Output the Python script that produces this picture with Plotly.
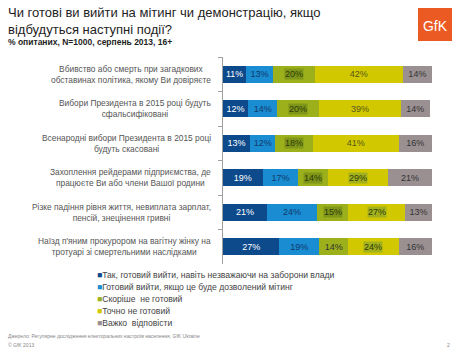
import plotly.graph_objects as go

# ---- data ----
categories = [
    "Вбивство або смерть при загадкових<br>обставинах політика, якому Ви довіряєте",
    "Вибори Президента в 2015 році будуть<br>сфальсифіковані",
    "Всенародні вибори Президента в 2015 році<br>будуть скасовані",
    "Захоплення рейдерами підприємства, де<br>працюєте Ви або члени Вашої родини",
    "Різке падіння рівня життя, невиплата зарплат,<br>пенсій, знецінення гривні",
    "Наїзд п'яним прокурором на вагітну жінку на<br>тротуарі зі смертельними наслідками",
]
series_names = [
    "Так, готовий вийти, навіть незважаючи на заборони влади",
    "Готовий вийти, якщо це буде дозволений мітинг",
    "Скоріше  не готовий",
    "Точно не готовий",
    "Важко  відповісти",
]
ready_despite_ban = [11, 12, 13, 19, 21, 27]
ready_if_allowed = [13, 14, 12, 17, 24, 19]
rather_not = [20, 20, 18, 14, 15, 14]
definitely_not = [42, 39, 41, 29, 27, 24]
hard_to_say = [14, 14, 16, 21, 13, 16]
series_values = [ready_despite_ban, ready_if_allowed, rather_not, definitely_not, hard_to_say]

# labels drawn with a highlight box in the original: (series index, row index)
boxed = {(2, 0), (2, 1), (2, 2), (2, 3), (3, 3), (2, 4), (3, 4), (3, 5)}

colors = ["#0d4a8c", "#1a8dd2", "#9cb01c", "#d2c800", "#9a9092"]
text_colors = ["#ffffff", "#12386a", "#333333", "#55581a", "#333333"]
box_colors = {2: "#7f9618", 3: "#a3b21c"}

W, H = 460, 353
L, R, T, B = 223, 432, 57, 264


def px_x(px):
    return (px - L) / (R - L)


def px_y(py):
    return 1 - (py - T) / (B - T)


fig = go.Figure()
ann = []
font = "Liberation Sans, Arial, sans-serif"

for si, (name, vals) in enumerate(zip(series_names, series_values)):
    texts = ["" if (si, ri) in boxed else f"{v}%" for ri, v in enumerate(vals)]
    fig.add_trace(go.Bar(
        y=categories, x=vals, name=name, orientation="h",
        marker=dict(color=colors[si], line=dict(width=0)),
        text=texts, textposition="inside", insidetextanchor="middle",
        textfont=dict(color=text_colors[si], size=9, family=font),
        showlegend=False, hoverinfo="skip",
    ))

# boxed labels
for ri, cat in enumerate(categories):
    cum = 0
    for si, vals in enumerate(series_values):
        v = vals[ri]
        if (si, ri) in boxed:
            ann.append(dict(x=cum + v / 2, y=cat, xref="x", yref="y", text=f"{v}%",
                            showarrow=False, bgcolor=box_colors[si], borderpad=0,
                            font=dict(size=9, color="#2e3a0c", family=font)))
        cum += v

# category labels
for cat in categories:
    ann.append(dict(x=px_x(213), y=cat, xref="paper", yref="y", text=cat,
                    xanchor="right", align="center", showarrow=False,
                    font=dict(size=8.4, color="#555555", family=font)))

# title
ann.append(dict(x=px_x(6), y=px_y(3), xref="paper", yref="paper", xanchor="left", yanchor="top",
                align="left", showarrow=False,
                text="Чи готові ви вийти на мітинг чи демонстрацію, якщо<br>відбудуться наступні події?",
                font=dict(size=13, color="#1e1e1e", family=font)))
ann.append(dict(x=px_x(6), y=px_y(35), xref="paper", yref="paper", xanchor="left", yanchor="top",
                showarrow=False, text="<b>% опитаних, N=1000, серпень 2013, 16+</b>",
                font=dict(size=8.5, color="#1e1e1e", family=font)))

# legend (manual)
leg_y = [275, 287, 299, 311, 323]
for si, name in enumerate(series_names):
    ann.append(dict(x=px_x(95), y=px_y(leg_y[si]), xref="paper", yref="paper",
                    xanchor="left", yanchor="middle", showarrow=False,
                    text=f"<span style='color:{colors[si]}'>■</span>{name}",
                    font=dict(size=8.6, color="#444444", family=font)))

# footer
ann.append(dict(x=px_x(6), y=px_y(336), xref="paper", yref="paper", xanchor="left", yanchor="middle",
                showarrow=False,
                text="Джерело: Регулярне дослідження електоральних настроїв населення, GfK Ukraine",
                font=dict(size=5, color="#888888", family=font)))
ann.append(dict(x=px_x(6), y=px_y(345), xref="paper", yref="paper", xanchor="left", yanchor="middle",
                showarrow=False, text="© GfK 2013",
                font=dict(size=5, color="#888888", family=font)))
ann.append(dict(x=px_x(452), y=px_y(345), xref="paper", yref="paper", xanchor="right", yanchor="middle",
                showarrow=False, text="2",
                font=dict(size=5, color="#888888", family=font)))

# logo
shapes = [dict(type="rect", xref="paper", yref="paper", x0=px_x(418), x1=px_x(452),
               y0=px_y(41), y1=px_y(8), fillcolor="#ec5a24", line=dict(width=0), layer="below",
               label=dict(text="GfK", font=dict(size=14, color="#ffffff", family=font),
                          textposition="middle center"))]

fig.update_layout(
    width=W, height=H, barmode="stack", bargap=0.5,
    margin=dict(l=L, r=W - R, t=T, b=H - B, pad=0),
    paper_bgcolor="white", plot_bgcolor="rgba(0,0,0,0)",
    xaxis=dict(range=[0, 100], visible=False, fixedrange=True),
    yaxis=dict(autorange="reversed", showticklabels=False, showline=True,
               linecolor="#a0a0a0", linewidth=1, ticks="outside", ticklen=4,
               tickcolor="#a0a0a0", tickson="boundaries", showgrid=False),
    annotations=ann, shapes=shapes, uniformtext=dict(mode=False),
)

fig.write_html("out.html")
